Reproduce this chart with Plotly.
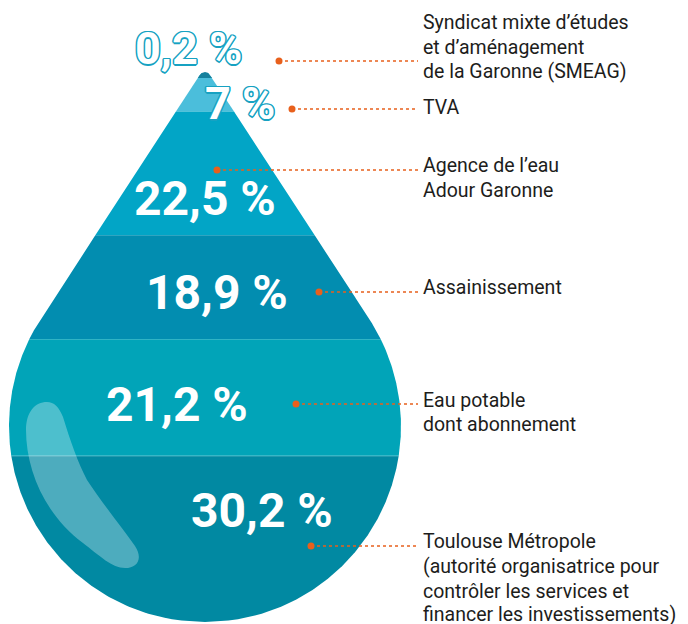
import numpy as np
import plotly.graph_objects as go

# ---------------- data ----------------
categories = [
    "SMEAG", "TVA", "Agence de l'eau", "Assainissement", "Eau potable", "Toulouse Métropole",
]
values = [0.2, 7.0, 22.5, 18.9, 21.2, 30.2]
value_labels = ["0,2 %", "7 %", "22,5 %", "18,9 %", "21,2 %", "30,2 %"]
label_lines = [
    ["Syndicat mixte d’études", "et d’aménagement", "de la Garonne (SMEAG)"],
    ["TVA"],
    ["Agence de l’eau", "Adour Garonne"],
    ["Assainissement"],
    ["Eau potable", "dont abonnement"],
    ["Toulouse Métropole", "(autorité organisatrice pour", "contrôler les services et",
     "financer les investissements)"],
]

# ---------------- styles / layout constants ----------------
seg_colors = ["#15819d", "#4bbedb", "#02a5c6", "#028db0", "#01a4b8", "#0189a2"]
W, H = 688, 624
PAD = 8  # page body margin
CX, Y_TOP, Y_BOT, R, TIP_R = 205.0, 72.0, 622.0, 196.0, 6.0
CY = Y_BOT - R
CAP_MIN = 6.0
ORANGE = "#e8601c"

# label anchor positions (pixels)
pct_pos = [(188, 48), (240, 103), (205, 198), (217, 292), (177, 404), (262, 510)]
dot_pos = [(279, 61), (292, 109), (217, 170), (319, 292), (296, 404), (311, 546)]
line_end_x = 418
text_x = 421
text_y = [[22, 47, 71], [107], [165, 190], [287], [400, 424], [541, 566, 591, 614]]

# ---------------- drop geometry ----------------
ya = 67.0
for _ in range(50):
    s = R / (CY - ya)
    ya = Y_TOP + TIP_R - TIP_R / s
sin_t = R / (CY - ya)
theta = np.arcsin(sin_t)
cos_t, tan_t = np.cos(theta), np.tan(theta)
yt = ya + TIP_R / sin_t
y_t1 = ya + TIP_R * cos_t ** 2 / sin_t
y_t2 = ya + np.sqrt((CY - ya) ** 2 - R ** 2) * cos_t


def half_width(y):
    if y < y_t1:
        return np.sqrt(max(TIP_R ** 2 - (y - yt) ** 2, 0.0))
    if y < y_t2:
        return (y - ya) * tan_t
    return np.sqrt(max(R ** 2 - (y - CY) ** 2, 0.0))


def seg_poly(y1, y2, n=120):
    ys = np.linspace(y1, y2, n)
    ws = np.array([half_width(v) for v in ys])
    xs = np.concatenate([CX - ws, (CX + ws)[::-1], [CX - ws[0]]])
    yy = np.concatenate([ys, ys[::-1], [ys[0]]])
    return xs, yy


scale = (Y_BOT - Y_TOP) / sum(values)
cum = np.concatenate([[0], np.cumsum(values)])
bounds = Y_TOP + cum * scale

fig = go.Figure()

order = list(range(1, len(values))) + [0]
for i in order:
    y1, y2 = bounds[i], bounds[i + 1]
    if i == 0:
        y2 = max(y2, Y_TOP + CAP_MIN)
    xs, yy = seg_poly(y1, y2)
    fig.add_trace(go.Scatter(x=xs, y=yy, mode="lines", fill="toself",
                             fillcolor=seg_colors[i], line=dict(width=0, color=seg_colors[i]),
                             hoverinfo="skip", showlegend=False))

# light separator between "Eau potable" and "Toulouse"
yb = bounds[5]
wb = half_width(yb)
fig.add_trace(go.Scatter(x=[CX - wb, CX + wb], y=[yb, yb], mode="lines",
                         line=dict(width=1, color="rgba(255,255,255,0.35)"),
                         hoverinfo="skip", showlegend=False))

# leader lines
for (dx, dy) in dot_pos:
    fig.add_trace(go.Scatter(x=[dx, line_end_x], y=[dy, dy], mode="lines",
                             line=dict(width=1.6, color=ORANGE, dash="dot"),
                             hoverinfo="skip", showlegend=False))
    fig.add_trace(go.Scatter(x=[dx], y=[dy], mode="markers",
                             marker=dict(size=7, color=ORANGE),
                             hoverinfo="skip", showlegend=False))

# highlight reflection
fig.add_shape(type="path",
              path=("M 47,402 C 35,402 26,412 26,430 C 26,470 45,515 83,543 "
                    "C 100,556 112,568 125,568 C 138,568 143,558 135,546 "
                    "C 120,525 100,500 87,480 C 78,463 70,440 63,417 "
                    "C 59,407 54,402 47,402 Z"),
              fillcolor="rgba(255,255,255,0.3)", line=dict(width=0), layer="above")

annotations = []
outline = "#17a2c2"
outline_shadow = ", ".join(f"{a}px {b}px 0 {outline}" for a, b in
                           [(1.5, 0), (-1.5, 0), (0, 1.5), (0, -1.5),
                            (1, 1), (-1, -1), (1, -1), (-1, 1)])
for i, lab in enumerate(value_labels):
    px, py = pct_pos[i]
    if i < 2:
        font = dict(family="Roboto", size=45, color="white", weight=700, shadow=outline_shadow)
    else:
        font = dict(family="Roboto", size=48, color="white", weight=700)
    annotations.append(dict(x=px, y=py, xref="x", yref="y", text=lab, showarrow=False,
                            xanchor="center", yanchor="middle", font=font))

for lines, ys in zip(label_lines, text_y):
    for t, y in zip(lines, ys):
        annotations.append(dict(x=text_x, y=y, xref="x", yref="y", text=t, showarrow=False,
                                xanchor="left", yanchor="middle",
                                font=dict(family="Roboto", size=19.5, color="#1d1d1b")))

fig.update_layout(
    width=W - PAD, height=H - PAD, margin=dict(l=0, r=0, t=0, b=0),
    paper_bgcolor="white", plot_bgcolor="white",
    xaxis=dict(range=[PAD, W], visible=False, fixedrange=True),
    yaxis=dict(range=[H, PAD], visible=False, fixedrange=True),
    annotations=annotations, showlegend=False,
)

fig.write_html("out.html")
